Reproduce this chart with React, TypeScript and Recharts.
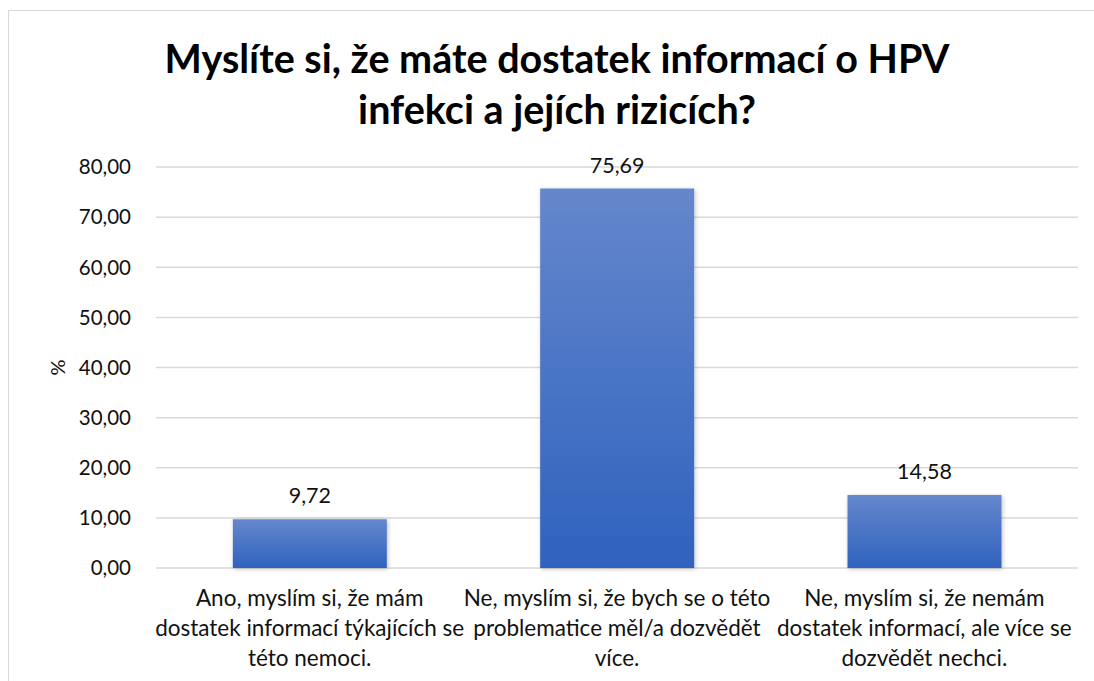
import React from "react";
import { Bar, BarChart, CartesianGrid, LabelList, XAxis, YAxis } from "recharts";

const categories = [
  "Ano, myslím si, že mám\ndostatek informací týkajících se\ntéto nemoci.",
  "Ne, myslím si, že bych se o této\nproblematice měl/a dozvědět\nvíce.",
  "Ne, myslím si, že nemám\ndostatek informací, ale více se\ndozvědět nechci.",
];
const percents = [9.72, 75.69, 14.58];
const yTicks = [0, 10, 20, 30, 40, 50, 60, 70, 80];

const data = categories.map((name, i) => ({ name, value: percents[i] }));

const FONT = "Lato, 'Open Sans', sans-serif";
const fmt = (v: number) => v.toFixed(2).replace(".", ",");

const CategoryTick = (props: any) => {
  const { x, y, payload } = props;
  const lines = String(payload.value).split("\n");
  return (
    <text x={x} y={y} textAnchor="middle" fontFamily={FONT} fontSize={22.5} fill="#111">
      {lines.map((l, i) => (
        <tspan key={i} x={x} dy={30}>
          {l}
        </tspan>
      ))}
    </text>
  );
};

export default function App() {
  return (
    <div
      style={{
        position: "absolute",
        left: 0,
        top: 0,
        width: 1094,
        height: 681,
        overflow: "hidden",
        background: "#fff",
      }}
    >
      <div
        style={{
          position: "absolute",
          left: 8,
          top: 10,
          width: 1090,
          height: 680,
          borderLeft: "1.5px solid #d9d9d9",
          borderTop: "1.5px solid #d9d9d9",
        }}
      />
      <div
        style={{
          position: "absolute",
          left: 0,
          width: 1114,
          top: 32,
          textAlign: "center",
          fontFamily: FONT,
          fontWeight: 700,
          fontSize: 39.5,
          lineHeight: "51px",
          color: "#000",
        }}
      >
        Myslíte si, že máte dostatek informací o HPV
        <br />
        infekci a jejích rizicích?
      </div>
      <div style={{ position: "absolute", left: 0, top: 0 }}>
        <BarChart
          width={1094}
          height={681}
          data={data}
          margin={{ top: 167, right: 16, bottom: 13, left: 56 }}
          barCategoryGap="25%"
        >
          <defs>
            <linearGradient id="barGrad" x1="0" y1="0" x2="0" y2="1">
              <stop offset="0%" stopColor="#6587cc" />
              <stop offset="100%" stopColor="#2f62be" />
            </linearGradient>
            <filter id="shadow" x="-10%" y="-10%" width="120%" height="120%">
              <feDropShadow dx="1" dy="1" stdDeviation="2" floodColor="#000" floodOpacity="0.25" />
            </filter>
          </defs>
          <CartesianGrid vertical={false} stroke="#d9d9d9" strokeWidth={1.5} />
          <XAxis
            dataKey="name"
            axisLine={false}
            tickLine={false}
            interval={0}
            height={100}
            tick={<CategoryTick />}
          />
          <YAxis
            width={100}
            domain={[0, 80]}
            ticks={yTicks}
            axisLine={false}
            tickLine={false}
            tickFormatter={fmt}
            tick={{ fontFamily: FONT, fontSize: 20.5, fill: "#111" }}
            tickMargin={19}
            label={({ viewBox }: any) => (
              <text
                x={viewBox.x + 1}
                y={viewBox.y + viewBox.height / 2}
                transform={`rotate(-90, ${viewBox.x + 1}, ${viewBox.y + viewBox.height / 2})`}
                textAnchor="middle"
                dominantBaseline="central"
                fontFamily={FONT}
                fontSize={20}
                fill="#111"
              >
                %
              </text>
            )}
          />
          <Bar dataKey="value" fill="url(#barGrad)" filter="url(#shadow)" isAnimationActive={false}>
            <LabelList
              dataKey="value"
              position="top"
              offset={16}
              formatter={(v: any) => fmt(Number(v))}
              style={{ fontFamily: FONT, fontSize: 21.5, fill: "#111" }}
            />
          </Bar>
        </BarChart>
      </div>
    </div>
  );
}
